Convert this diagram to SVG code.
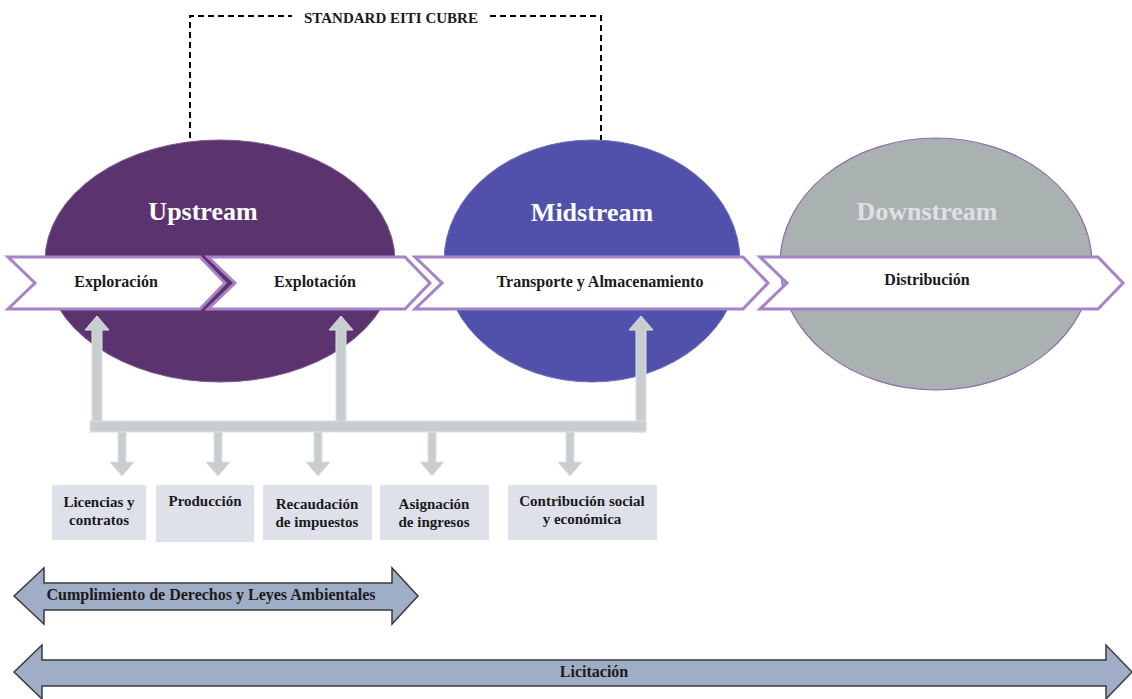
<svg xmlns="http://www.w3.org/2000/svg" width="1132" height="699" viewBox="0 0 1132 699">
<style>
.t{font-family:"Liberation Serif","Times New Roman",serif;font-weight:bold;fill:#1a1a1a;text-anchor:middle}
.title{font-family:"Liberation Serif","Times New Roman",serif;font-weight:bold;font-size:26px;text-anchor:middle}
.chev{fill:#ffffff;stroke:#A682C8;stroke-width:3;stroke-linejoin:miter}
.g{fill:#C8CED0;stroke:#DCE0E2;stroke-width:1}
.box{fill:#DEE1EA}
.dbl{fill:#A0ADC6;stroke:#3a3a3a;stroke-width:1.5}
</style>
<rect width="1132" height="699" fill="#ffffff"/>
<g id="eiti">
<path d="M190,138 V16 H292 M490,16 H601 V140" fill="none" stroke="#000" stroke-width="2" stroke-dasharray="6,4"/>
<text class="t" x="391" y="23" font-size="15">STANDARD EITI CUBRE</text>
</g>
<g id="upstream">
<ellipse cx="220" cy="261" rx="175" ry="121" fill="#5B336E" stroke="#7A5890" stroke-width="1"/>
<text class="title" x="203" y="220" fill="#ffffff">Upstream</text>
</g>
<g id="midstream">
<ellipse cx="592" cy="261" rx="148" ry="121" fill="#5150AA" stroke="#7070C0" stroke-width="1"/>
<text class="title" x="592" y="221" fill="#ffffff">Midstream</text>
</g>
<g id="downstream">
<ellipse cx="936" cy="264" rx="156" ry="126" fill="#A9B1B1" stroke="#8E6FAF" stroke-width="1.2"/>
<text class="title" x="927" y="220" fill="#DEE1E3">Downstream</text>
</g>
<g id="exploracion">
<polygon class="chev" points="8,257 200,257 225,283 200,309 8,309 35,283"/>
<text class="t" x="116" y="287" font-size="16">Exploración</text>
</g>
<g id="explotacion">
<polygon class="chev" points="208,257 405,257 430,283 405,309 208,309 235,283"/>
<text class="t" x="315" y="287" font-size="16">Explotación</text>
</g>
<g id="transporte">
<polygon class="chev" points="415,257 743,257 768,283 743,309 415,309 442,283"/>
<text class="t" x="600" y="287" font-size="16">Transporte y Almacenamiento</text>
</g>
<g id="distribucion">
<polygon class="chev" points="760,257 1098,257 1123,283 1098,309 760,309 787,283"/>
<text class="t" x="927" y="285" font-size="16">Distribución</text>
</g>
<g id="connectors">
<path class="g" d="M92,423 V330 H85 L97,316 L109,330 H102 V423 Z"/>
<path class="g" d="M336,423 V330 H329 L341,316 L353,330 H346 V423 Z"/>
<path class="g" d="M636,432 V330 H629 L641,316 L653,330 H646 V432 Z"/>
<rect class="g" x="90" y="421" width="556" height="11"/>
<path class="g" d="M118,432 V462 H110 L122,476 L134,462 H126 V432 Z"/>
<path class="g" d="M214,432 V462 H206 L218,476 L230,462 H222 V432 Z"/>
<path class="g" d="M314,432 V462 H306 L318,476 L330,462 H322 V432 Z"/>
<path class="g" d="M428,432 V462 H420 L432,476 L444,462 H436 V432 Z"/>
<path class="g" d="M566,432 V462 H558 L570,476 L582,462 H574 V432 Z"/>
</g>
<g id="licencias">
<rect class="box" x="52" y="485" width="94" height="55"/>
<text class="t" x="99" y="507" font-size="15">Licencias y</text>
<text class="t" x="99" y="525" font-size="15">contratos</text>
</g>
<g id="produccion">
<rect class="box" x="156" y="485" width="98" height="57"/>
<text class="t" x="205" y="506" font-size="15">Producción</text>
</g>
<g id="recaudacion">
<rect class="box" x="263" y="485" width="109" height="55"/>
<text class="t" x="317" y="509" font-size="15">Recaudación</text>
<text class="t" x="317" y="527" font-size="15">de impuestos</text>
</g>
<g id="asignacion">
<rect class="box" x="380" y="485" width="109" height="55"/>
<text class="t" x="434" y="509" font-size="15">Asignación</text>
<text class="t" x="434" y="527" font-size="15">de ingresos</text>
</g>
<g id="contribucion">
<rect class="box" x="508" y="485" width="149" height="55"/>
<text class="t" x="582" y="506" font-size="15">Contribución social</text>
<text class="t" x="582" y="524" font-size="15">y económica</text>
</g>
<g id="cumplimiento">
<polygon class="dbl" points="14,596 44,568 44,583 392,583 392,568 418,596 392,624 392,610 44,610 44,624"/>
<text class="t" x="211" y="600" font-size="16">Cumplimiento de Derechos y Leyes Ambientales</text>
</g>
<g id="licitacion">
<polygon class="dbl" points="14,672 42,645 42,660 1106,660 1106,645 1132,672 1106,699 1106,686 42,686 42,699"/>
<text class="t" x="594" y="677" font-size="16">Licitación</text>
</g>
</svg>
